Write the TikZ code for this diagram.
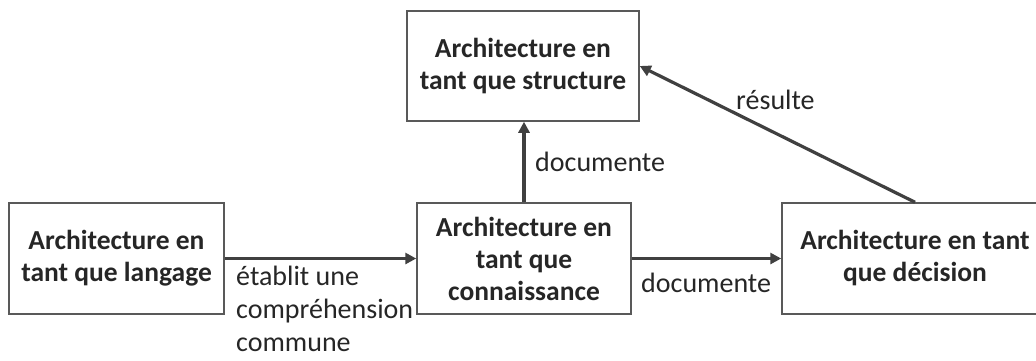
\documentclass[tikz,border=0pt]{standalone}
\usepackage{fontspec}
\setmainfont{Carlito}
\usetikzlibrary{arrows.meta}
\definecolor{txt}{HTML}{262626}
\definecolor{edge}{HTML}{404040}
\definecolor{frame}{HTML}{595959}
\tikzset{
  box/.style={draw=frame, line width=1.5pt, fill=white, text=txt, align=center,
    font=\fontsize{27.5}{32}\selectfont\bfseries, inner sep=0pt},
  conn/.style={draw=edge, line width=3.2pt, -{Triangle[length=11pt,width=11pt]}},
  lbl/.style={text=txt, font=\fontsize{28}{33}\selectfont, inner sep=0pt}
}
\begin{document}
\begin{tikzpicture}[x=1pt,y=-1pt]
\useasboundingbox (0,0) rectangle (1036,360);
\clip (0,0) rectangle (1036,360);
\fill[white] (0,0) rectangle (1036,360);
\node[box, minimum width=232pt, minimum height=110pt] (T) at (523,66) {Architecture en\\tant que structure};
\node[box, minimum width=215pt, minimum height=111pt] (L) at (116.5,258.5) {Architecture en\\tant que langage};
\node[box, minimum width=214pt, minimum height=111pt] (M) at (524,258.5) {Architecture en\\tant que\\connaissance};
\node[box, minimum width=266pt, minimum height=111pt] (R) at (915,258.5) {Architecture en tant\\que décision};
\draw[conn] (L) -- (M);
\draw[conn] (M) -- (R);
\draw[conn] (M.north) -- (M.north |- T.south);
\draw[conn] (R.north) -- (T.east);
\node[lbl, anchor=north west, align=left] (l1) at (236,266) {établit une\\compréhension\\commune};
\node[lbl, anchor=west] (l2) at (641,283) {documente};
\node[lbl, anchor=west] (l3) at (535,162) {documente};
\node[lbl, anchor=west] (l4) at (736,100) {résulte};
\end{tikzpicture}
\end{document}
